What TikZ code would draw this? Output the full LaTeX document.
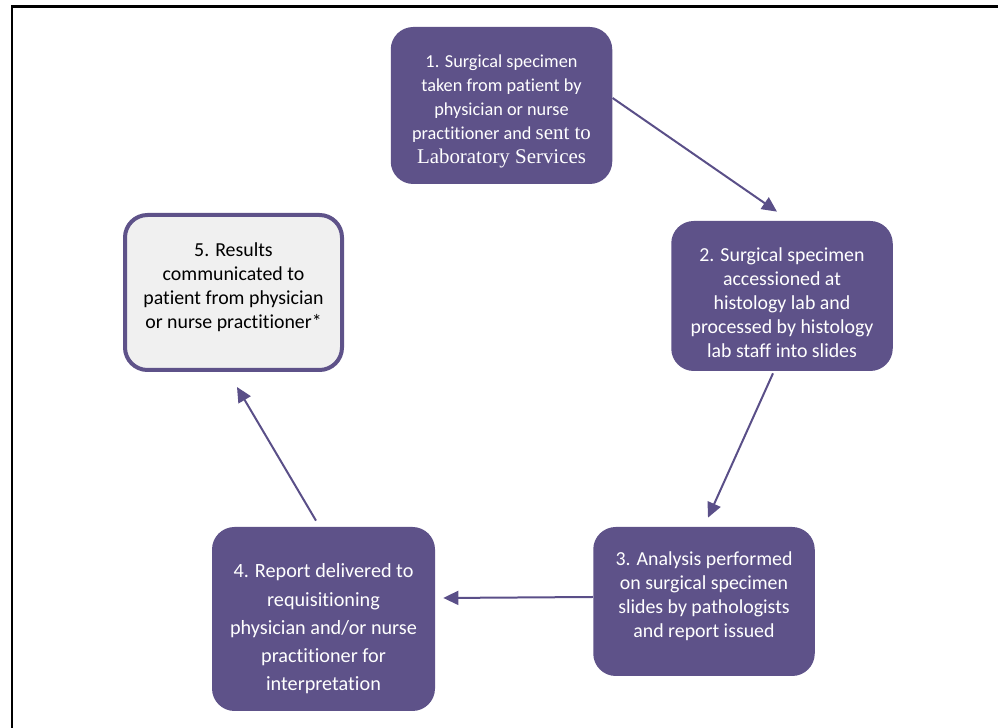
\documentclass[tikz,border=0pt]{standalone}
\usepackage{fontspec}
\setmainfont{Carlito}[Ligatures=NoCommon]
\newfontfamily\timesfont{Liberation Serif}
\usetikzlibrary{calc,arrows.meta,positioning}
\definecolor{pathpurple}{RGB}{94,82,137}
\definecolor{arrowpurple}{RGB}{90,79,136}
\definecolor{resultgray}{RGB}{240,240,240}
\tikzset{
  stepbox/.style={rectangle, rounded corners=0.45cm, fill=pathpurple,
                  inner sep=0pt, minimum width=4.43cm},
  stepfinal/.style={stepbox, fill=resultgray, draw=pathpurple, line width=0.08cm,
                    minimum width=4.34cm},
  steptext/.style={align=center, inner sep=0pt, text=white,
                   font=\fontsize{11.3}{13.7}\selectfont},
  flow/.style={-{Triangle[length=0.3cm, width=0.28cm]}, line width=0.04cm,
               arrowpurple},
  framerule/.style={line width=0.05cm, black},
}
\newcommand{\labserif}{\timesfont\fontsize{11.9}{13.7}\selectfont}
\begin{document}
\begin{tikzpicture}
  \useasboundingbox (0,0) rectangle (19.96,-14.56);
  % page frame
  \draw[framerule] (0.24,-14.7) -- (0.24,-0.13) -- (20.1,-0.13);
  % boxes of the pathway
  \node[stepbox, minimum height=3.14cm] (s1) at (10.03,-2.11) {};
  \node[stepbox, minimum height=3.00cm] (s2) at (15.64,-5.92) {};
  \node[stepbox, minimum height=2.98cm] (s3) at (14.08,-12.03) {};
  \node[stepbox, minimum height=3.68cm, minimum width=4.46cm] (s4) at (6.47,-12.38) {};
  \node[stepfinal, minimum height=3.10cm] (s5) at (4.67,-5.85) {};
  % texts
  \node[steptext, font=\fontsize{10.4}{13.7}\selectfont] (t1) at ([yshift=-0.12cm]s1.center)
    {1. Surgical specimen\\taken from patient by\\physician or nurse\\
     practitioner and {\labserif sent to}\\{\labserif Laboratory Services}};
  \node[steptext] (t2) at ([yshift=-0.13cm]s2.center)
    {2. Surgical specimen\\accessioned at\\histology lab and\\processed by histology\\lab staff into slides};
  \node[steptext] (t3) at ([yshift=0.11cm]s3.center)
    {3. Analysis performed\\on surgical specimen\\slides by pathologists\\and report issued};
  \node[steptext, font=\fontsize{11.5}{16.1}\selectfont] (t4) at ([yshift=-0.2cm]s4.center)
    {4. Report delivered to\\requisitioning\\physician and/or nurse\\practitioner for\\interpretation};
  \node[steptext, text=black] (t5) at ([yshift=0.11cm]s5.center)
    {5. Results\\communicated to\\patient from physician\\or nurse practitioner*};
  % arrows round the cycle
  \draw[flow] ([yshift=0.15cm]s1.east) -- ([xshift=-0.1cm, yshift=0.18cm]s2.north);
  \draw[flow] ([xshift=-0.18cm, yshift=-0.04cm]s2.south) -- ([xshift=0.08cm, yshift=0.18cm]s3.north);
  \draw[flow] ([yshift=0.09cm]s3.west) -- ([xshift=0.16cm, yshift=0.42cm]s4.east);
  \draw[flow] ([xshift=-0.15cm, yshift=0.12cm]s4.north) -- ([xshift=0.07cm, yshift=-0.30cm]s5.south);
\end{tikzpicture}
\end{document}
